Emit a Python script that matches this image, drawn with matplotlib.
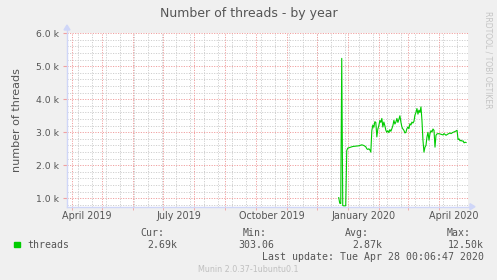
import matplotlib
matplotlib.use("Agg")
import matplotlib.pyplot as plt
import matplotlib.dates as mdates
import numpy as np
import pandas as pd

# ---- data (values in thousands of threads) ----
dates = ['2019-12-23', '2019-12-24', '2019-12-25', '2019-12-26', '2019-12-27', '2019-12-28',
         '2019-12-29', '2019-12-30', '2019-12-31', '2020-01-01', '2020-01-02', '2020-01-04',
         '2020-01-06', '2020-01-09', '2020-01-12', '2020-01-15', '2020-01-17', '2020-01-19',
         '2020-01-20', '2020-01-21', '2020-01-22', '2020-01-23', '2020-01-24', '2020-01-25',
         '2020-01-26', '2020-01-27', '2020-01-28', '2020-01-29', '2020-01-30', '2020-01-31',
         '2020-02-01', '2020-02-02', '2020-02-03', '2020-02-04', '2020-02-05', '2020-02-06',
         '2020-02-07', '2020-02-08', '2020-02-09', '2020-02-10', '2020-02-11', '2020-02-12',
         '2020-02-13', '2020-02-14', '2020-02-15', '2020-02-16', '2020-02-17', '2020-02-18',
         '2020-02-19', '2020-02-20', '2020-02-21', '2020-02-22', '2020-02-23', '2020-02-24',
         '2020-02-25', '2020-02-26', '2020-02-27', '2020-02-28', '2020-02-29', '2020-03-01',
         '2020-03-02', '2020-03-03', '2020-03-04', '2020-03-05', '2020-03-06', '2020-03-07',
         '2020-03-08', '2020-03-09', '2020-03-10', '2020-03-11', '2020-03-12', '2020-03-13',
         '2020-03-14', '2020-03-15', '2020-03-16', '2020-03-17', '2020-03-18', '2020-03-19',
         '2020-03-20', '2020-03-21', '2020-03-22', '2020-03-23', '2020-03-24', '2020-03-25',
         '2020-03-26', '2020-03-27', '2020-03-28', '2020-03-29', '2020-03-30', '2020-03-31',
         '2020-04-02', '2020-04-03', '2020-04-05', '2020-04-06', '2020-04-08', '2020-04-10',
         '2020-04-12', '2020-04-13', '2020-04-15', '2020-04-16', '2020-04-18', '2020-04-19',
         '2020-04-20', '2020-04-21', '2020-04-22', '2020-04-23', '2020-04-24', '2020-04-25',
         '2020-04-26', '2020-04-27', '2020-04-28']
threads_k = [1.02, 0.85, 0.84, 5.24, 0.78, 0.77,
             0.77, 0.78, 2.45, 2.52, 2.53, 2.55,
             2.57, 2.58, 2.59, 2.62, 2.60, 2.56,
             2.50, 2.48, 2.50, 2.47, 2.40, 3.05,
             3.22, 3.15, 3.32, 3.30, 2.86, 3.10,
             3.20, 3.36, 3.30, 3.42, 3.16, 3.31,
             3.20, 3.06, 3.00, 3.05, 2.99, 3.08,
             3.03, 3.11, 3.20, 3.36, 3.25, 3.31,
             3.42, 3.30, 3.39, 3.50, 3.31, 3.16,
             3.10, 3.06, 2.98, 3.00, 3.11, 3.16,
             3.11, 3.26, 3.22, 3.31, 3.28, 3.33,
             3.52, 3.60, 3.72, 3.55, 3.67, 3.60,
             3.77, 3.36, 2.76, 2.40, 2.55, 2.60,
             2.86, 3.00, 2.76, 2.96, 3.05, 3.01,
             3.10, 3.06, 2.55, 2.91, 2.95, 2.96,
             2.95, 2.94, 2.92, 2.96, 2.91, 2.95,
             2.98, 2.96, 3.00, 3.01, 3.04, 3.06,
             2.78, 2.80, 2.74, 2.76, 2.73, 2.74,
             2.68, 2.70, 2.69]

yticks_k = [1, 2, 3, 4, 5, 6]
month_labels = ['April 2019', 'July 2019', 'October 2019', 'January 2020', 'April 2020']
month_label_dates = ['2019-04-16', '2019-07-17', '2019-10-17', '2020-01-17', '2020-04-16']

legend_name = 'threads'
stat_heads = ['Cur:', 'Min:', 'Avg:', 'Max:']
stat_vals = ['2.69k', '303.06', '2.87k', '12.50k']

# ---- style ----
FONT = '#555555'
AXIS = '#CFD6F8'
MGRID = '#f0a0a0'
GRID = '#cfcfcf'
LINE = '#00cc00'

W, H = 497, 280
fig = plt.figure(figsize=(W / 100, H / 100), dpi=100, facecolor='#f0f0f0')
L, R, T, B = 67, 468, 33.3, 206.7
ax = fig.add_axes([L / W, 1 - B / H, (R - L) / W, (B - T) / H], facecolor='white')

x0 = pd.Timestamp('2019-03-27 00:00')
x1 = pd.Timestamp('2020-04-29 22:00')
ax.set_xlim(x0, x1)
ax.set_ylim(0.745, 6.0)

# grid
dotted = (0, (1.2, 1.4))
for v in np.arange(0.8, 6.01, 0.2):
    if abs(v - round(v)) > 1e-6:
        ax.axhline(v, color=GRID, lw=0.7, ls=dotted, zorder=1)
for v in yticks_k:
    ax.axhline(v, color=MGRID, lw=0.7, ls=dotted, zorder=1.5)
minor_days = pd.date_range('2019-03-24', '2020-04-30', freq='14D')
for d in minor_days:
    if x0 <= d <= x1:
        ax.axvline(d, color=GRID, lw=0.7, ls=dotted, zorder=1)
month_starts = pd.date_range('2019-04-01', '2020-04-01', freq='MS')
for d in month_starts:
    ax.axvline(d, color=MGRID, lw=0.7, ls=dotted, zorder=1.5)

# data
ax.plot(pd.to_datetime(dates), threads_k, color=LINE, lw=0.8, zorder=3)

# axes
for s in ax.spines.values():
    s.set_visible(False)
ax.set_yticks(yticks_k)
ax.set_yticklabels([f'{v:.1f} k' for v in yticks_k], fontsize=6.7, color=FONT)
ax.tick_params(axis='y', length=3, color=MGRID, pad=3, direction='out')
ax.set_xticks(pd.to_datetime(month_label_dates))
ax.set_xticklabels(month_labels, fontsize=6.9, color=FONT)
ax.tick_params(axis='x', length=0, pad=3)
ax.set_xticks(month_starts, minor=True)
ax.tick_params(axis='x', which='minor', length=2.5, color=MGRID, direction='out')

# axis lines with arrows (figure pixel coords)
def fx(px):
    return px / W

def fy(py):
    return 1 - py / H

fig.add_artist(plt.Line2D([fx(L), fx(L)], [fy(B), fy(28)], color=AXIS, lw=1))
fig.add_artist(plt.Line2D([fx(L), fx(472)], [fy(B), fy(B)], color=AXIS, lw=1))
fig.add_artist(plt.Polygon([[fx(L - 3), fy(30)], [fx(L + 3), fy(30)], [fx(L), fy(25)]],
                           closed=True, color=AXIS, transform=fig.transFigure))
fig.add_artist(plt.Polygon([[fx(470), fy(B - 3)], [fx(470), fy(B + 3)], [fx(475), fy(B)]],
                           closed=True, color=AXIS, transform=fig.transFigure))

ax.set_ylabel('number of threads', fontsize=8, color=FONT, labelpad=6)
ax.yaxis.set_label_coords(fx(17) - fx(L), 0.5, transform=None) if False else None
fig.text(fx(17), fy(120), 'number of threads', rotation=90, ha='center', va='center',
         fontsize=8, color=FONT)
ax.set_ylabel('')

# title
fig.text(0.5, fy(13), 'Number of threads - by year', ha='center', va='center',
         fontsize=9, color=FONT)

# watermark
fig.text(fx(488), fy(60), 'RRDTOOL / TOBI OETIKER', rotation=270, ha='center', va='center',
         fontsize=5.5, color='#c4c4c4')

# legend
mono = 'DejaVu Sans Mono'
fig.add_artist(plt.Rectangle((fx(14), fy(247)), 6 / W, 5 / H, color=LINE,
                             transform=fig.transFigure))
fig.text(fx(27), fy(244.5), legend_name, fontsize=7.1, family=mono, color=FONT,
         ha='left', va='center')
head_right = [164, 267, 369, 471]
val_right = [177, 274, 382, 484]
for h, v, hr, vr in zip(stat_heads, stat_vals, head_right, val_right):
    fig.text(fx(hr), fy(232.5), h, fontsize=7.1, family=mono, color=FONT,
             ha='right', va='center')
    fig.text(fx(vr), fy(244.5), v, fontsize=7.1, family=mono, color=FONT,
             ha='right', va='center')
fig.text(fx(484), fy(257), 'Last update: Tue Apr 28 00:06:47 2020', fontsize=7.1,
         family=mono, color=FONT, ha='right', va='center')
fig.text(fx(248), fy(269.5), 'Munin 2.0.37-1ubuntu0.1', fontsize=5.8, color='#c0c0c0',
         ha='center', va='center')

fig.savefig('out.png', dpi=100, facecolor=fig.get_facecolor())
